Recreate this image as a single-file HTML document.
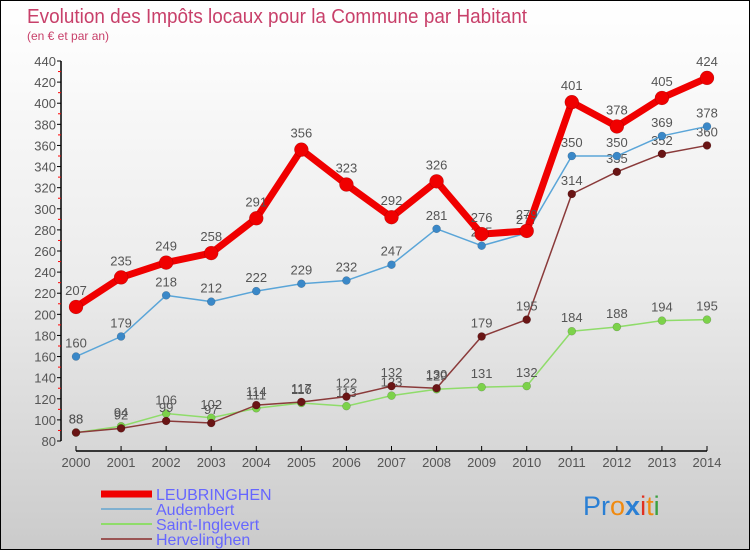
<!DOCTYPE html>
<html><head><meta charset="utf-8">
<style>
html,body{margin:0;padding:0;}
body{width:750px;height:550px;overflow:hidden;font-family:"Liberation Sans",sans-serif;}
#wrap{position:relative;width:748px;height:548px;border:1px solid #000;background:linear-gradient(#fff 0%,#ececec 50%,#cbcbcb 100%);}
svg text{font-family:"Liberation Sans",sans-serif;}
</style></head><body>
<div id="wrap">
<svg id="chart" width="748" height="548" style="position:absolute;left:0;top:0">
 <text x="26" y="22" font-size="20" fill="#c8406a" textLength="500" lengthAdjust="spacingAndGlyphs">Evolution des Impôts locaux pour la Commune par Habitant</text>
 <text x="26" y="39" font-size="12" fill="#c8406a">(en € et par an)</text>
 <g id="axes"></g>
 <g id="series"></g>
 <g id="legend"></g>
 <text x="582" y="514" font-size="27"><tspan fill="#2a7fd4">Pr</tspan><tspan fill="#f08a10">o</tspan><tspan fill="#2a7fd4" font-weight="bold">x</tspan><tspan fill="#e03020">i</tspan><tspan fill="#f08a10">t</tspan><tspan fill="#3aa040">i</tspan></text>
</svg>
</div>
<script>
const years=[2000,2001,2002,2003,2004,2005,2006,2007,2008,2009,2010,2011,2012,2013,2014];
const leub=[207,235,249,258,291,356,323,292,326,276,279,401,378,405,424];
const aud=[160,179,218,212,222,229,232,247,281,265,277,350,350,369,378];
const saint=[88,94,106,102,111,116,113,123,129,131,132,184,188,194,195];
const herv=[88,92,99,97,114,117,122,132,130,179,195,314,335,352,360];
const yTicks=[80,100,120,140,160,180,200,220,240,260,280,300,320,340,360,380,400,420,440];
const NS='http://www.w3.org/2000/svg';
function X(i){return 75+i*(706-75)/(years.length-1);}
function Y(v){return 440-(v-80)*380/360;}
function mk(tag,attrs,parent){const e=document.createElementNS(NS,tag);for(const k in attrs)e.setAttribute(k,attrs[k]);parent.appendChild(e);return e;}
const axes=document.getElementById('axes');
let yl=mk('line',{x1:60,y1:Y(440),x2:60,y2:Y(80),stroke:'#000','stroke-width':1.5},axes);


yTicks.forEach(t=>{
 mk('line',{x1:56,x2:60,y1:Y(t),y2:Y(t),stroke:'#000'},axes);
 if(t<440)mk('line',{x1:57,x2:60,y1:Y(t+10),y2:Y(t+10),stroke:'#f00'},axes);
 let tx=mk('text',{x:55,y:Y(t)+5,'font-size':13,fill:'#555','text-anchor':'end'},axes);
 tx.textContent=t;
 
 
});
let xl=mk('line',{x1:X(0),y1:450,x2:X(14),y2:450,stroke:'#000','stroke-width':1.5},axes);


years.forEach((yr,i)=>{
 mk('line',{x1:X(i),x2:X(i),y1:445,y2:450,stroke:'#000'},axes);
 let tx=mk('text',{x:X(i),y:466,'font-size':13,fill:'#555','text-anchor':'middle'},axes);
 tx.textContent=yr;
 
 
});
const sg=document.getElementById('series');
function draw(vals,color,dot,w,r,name){
 const g=mk('g',{},sg);
 
 
 mk('polyline',{points:vals.map((v,i)=>X(i)+','+Y(v)).join(' '),fill:'none',stroke:color,'stroke-width':w,'stroke-linejoin':'round'},g);
 vals.forEach((v,i)=>{
  const c=mk('circle',{cx:X(i),cy:Y(v),r:r,fill:dot,stroke:'rgba(0,0,0,0.25)','stroke-width':0.5},g);
  
  
  const t=mk('text',{x:X(i),y:Y(v)-r-5,'font-size':13,fill:'#555','text-anchor':'middle'},g);
  t.textContent=v;
 });
}
draw(saint,'#8fdc6a','#7cd24a',1.5,4,'saint-inglevert');
draw(herv,'#8a3a3a','#6a1515',1.5,4,'hervelinghen');
draw(aud,'#5aa5d8','#3a88c8',1.5,4,'audembert');
draw(leub,'#f00000','#f00000',7,7,'leubringhen');
const lg=document.getElementById('legend');
const leg=[['LEUBRINGHEN','#f00000',7],['Audembert','#7fb0d0',2],['Saint-Inglevert','#8fdc6a',2],['Hervelinghen','#9a5555',2]];
leg.forEach((l,i)=>{
 const y=493+i*15;
 mk('line',{x1:100,x2:151,y1:y,y2:y,stroke:l[1],'stroke-width':l[2]},lg);
 const t=mk('text',{x:155,y:y+6,'font-size':16,fill:'#6666ff'},lg);
 t.textContent=l[0];
 
 
});
</script>
</body></html>
